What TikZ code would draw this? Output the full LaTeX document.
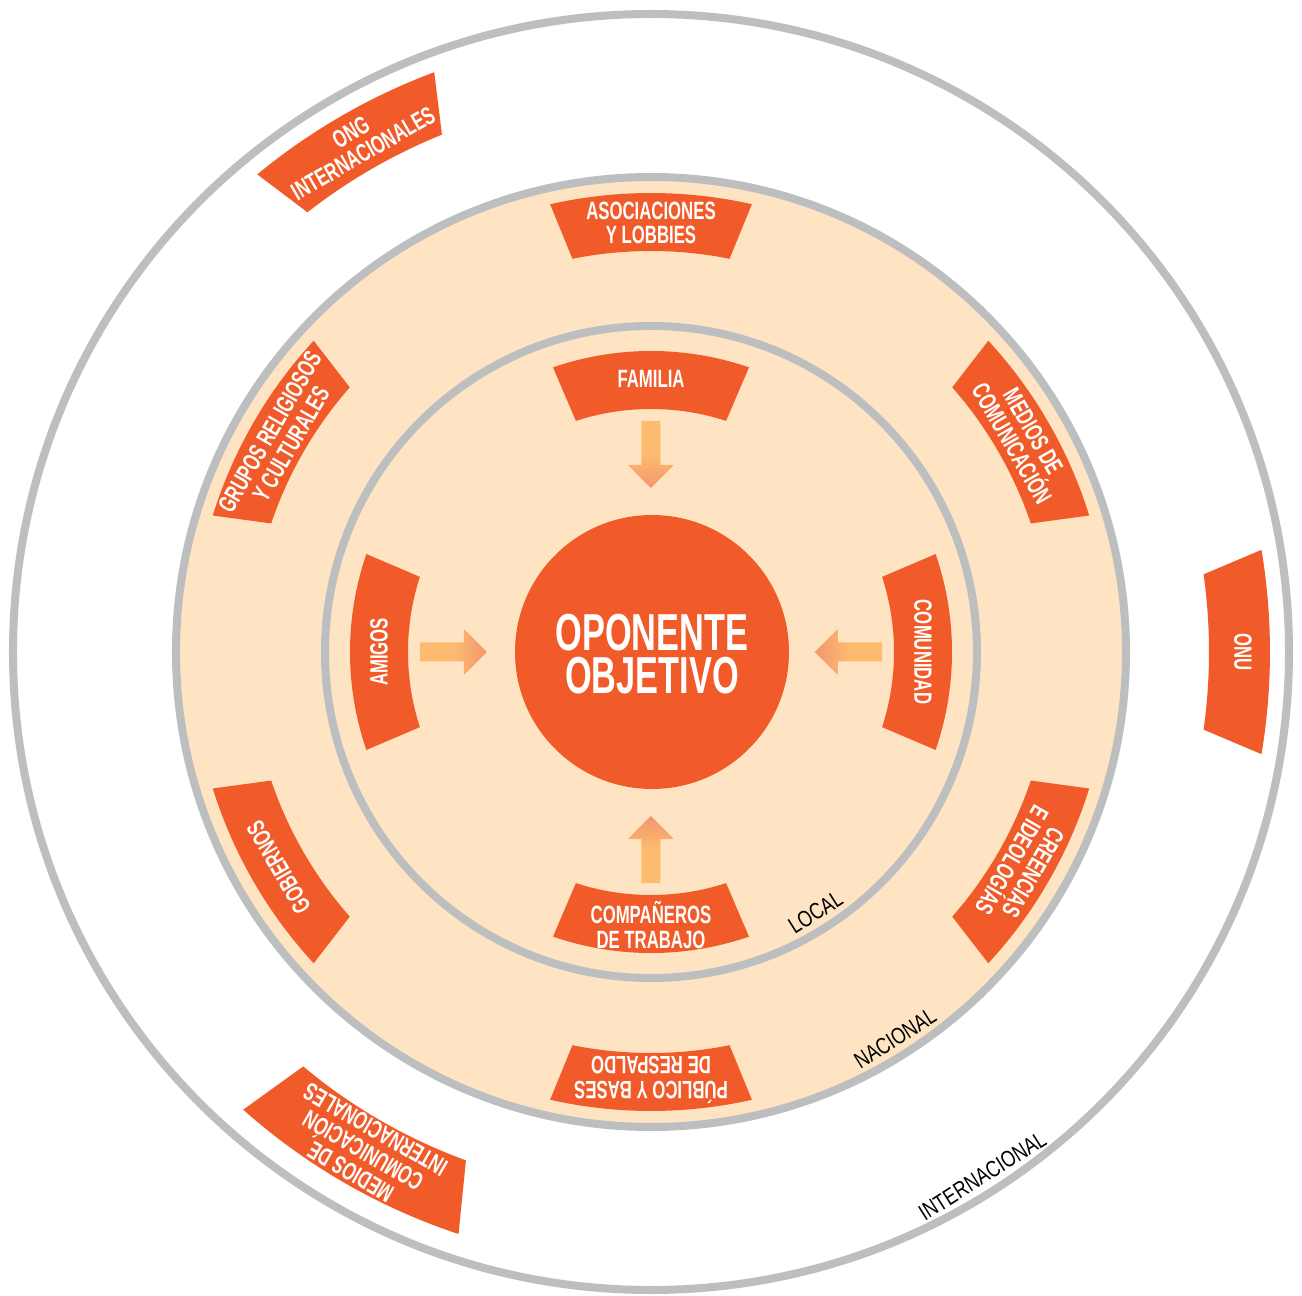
\documentclass[tikz,border=0pt]{standalone}
\usepackage{fontspec}
\setmainfont{Liberation Sans}
\newfontfamily\labfont{Liberation Sans}[FakeStretch=0.67]
\newfontfamily\bigfont{Liberation Sans}[FakeStretch=0.66]
\newfontfamily\ringfont{Liberation Sans}[FakeStretch=0.78]
\definecolor{orng}{RGB}{241,91,42}
\definecolor{peach}{RGB}{254,228,195}
\definecolor{ringgray}{RGB}{188,190,192}
\definecolor{arrA}{RGB}{253,187,112}
\definecolor{arrB}{RGB}{243,150,108}
% #1 centre angle, #2 inner radius, #3 outer radius, #4 inner half angle, #5 outer half angle
\newcommand{\sectorshape}[5]{%
  \fill[sect] ({#1-#5}:{#3}) arc[start angle={#1-#5}, end angle={#1+#5}, radius=#3]
    -- ({#1+#4}:{#2}) arc[start angle={#1+#4}, end angle={#1-#4}, radius=#2] -- cycle;}
\begin{document}
\begin{tikzpicture}[x=0.5pt,y=0.5pt,
  sect/.style={fill=orng},
  ring/.style={draw=ringgray, line width=4pt},
  lab/.style={text=white, font=\labfont\bfseries\fontsize{12.5}{12.3}\selectfont, align=center, inner sep=0pt},
  ringlab/.style={text=black, font=\ringfont\fontsize{11.5}{11.5}\selectfont, inner sep=0pt},
  bigtxt/.style={text=white, font=\bigfont\bfseries\fontsize{26}{21.5}\selectfont, align=center, inner sep=0pt}]
\fill[white] (-651,-644) rectangle (651,652);
\useasboundingbox (-651,-644) rectangle (651,652);
% rings
\draw[ring] (0,0) circle[radius=638];
\filldraw[ring, fill=peach] (0,0) circle[radius=475];
\draw[ring] (0,0) circle[radius=326];
% local sectors
\sectorshape{90}{243}{301}{18}{19}
\sectorshape{180}{243}{301}{18}{19}
\sectorshape{0}{243}{301}{18}{19}
\sectorshape{270}{243}{301}{18}{19}
% national sectors
\sectorshape{90}{401}{459}{11.3}{12.7}
\sectorshape{30}{401}{459}{11.3}{12.7}
\sectorshape{-30}{401}{459}{11.3}{12.7}
\sectorshape{270}{401}{459}{11.3}{12.7}
\sectorshape{210}{401}{459}{11.3}{12.7}
\sectorshape{150}{401}{459}{11.3}{12.7}
% international sectors
\sectorshape{120}{558}{619}{8}{9.5}
\sectorshape{0}{558}{619}{8}{9.5}
\sectorshape{240}{541}{613}{10}{11.7}
% centre
\node[circle, fill=orng, minimum size=137pt, inner sep=0pt] (core) at (1,0) {};
\node[bigtxt] (oponente) at (1,-2.5) {OPONENTE\\OBJETIVO};
% arrows
\shade[top color=arrA, bottom color=arrB, middle color=arrA]
  (-9.5,231) -- (-9.5,187) -- (-23,187) -- (0,164) -- (23,187) -- (9.5,187) -- (9.5,231) -- cycle;
\shade[bottom color=arrA, top color=arrB, middle color=arrA]
  (-9.5,-231) -- (-9.5,-187) -- (-23,-187) -- (0,-164) -- (23,-187) -- (9.5,-187) -- (9.5,-231) -- cycle;
\shade[left color=arrA, right color=arrB, middle color=arrA]
  (-231,-9.5) -- (-187,-9.5) -- (-187,-23) -- (-164,0) -- (-187,23) -- (-187,9.5) -- (-231,9.5) -- cycle;
\shade[right color=arrA, left color=arrB, middle color=arrA]
  (231,-9.5) -- (187,-9.5) -- (187,-23) -- (164,0) -- (187,23) -- (187,9.5) -- (231,9.5) -- cycle;
% labels
\node[lab] (familia) at (90:273) {FAMILIA};
\node[lab, rotate=90] (amigos) at (180:272) {AMIGOS};
\node[lab, rotate=-90] (comunidad) at (0:272) {COMUNIDAD};
\node[lab] (companeros) at (270:273) {COMPAÑEROS\\DE TRABAJO};
\node[lab] (asoc) at (90:429) {ASOCIACIONES\\Y LOBBIES};
\node[lab, rotate=-60] (medios) at (30:429) {MEDIOS DE\\COMUNICACIÓN};
\node[lab, rotate=-120] (creencias) at (-30:429) {CREENCIAS\\E IDEOLOGÍAS};
\node[lab, rotate=180] (publico) at (270:428) {PÚBLICO Y BASES\\DE RESPALDO};
\node[lab, rotate=120] (gobiernos) at (210:430) {GOBIERNOS};
\node[lab, rotate=60] (grupos) at (150:428) {GRUPOS RELIGIOSOS\\Y CULTURALES};
\node[lab, rotate=30] (ong) at (120:588) {ONG\\INTERNACIONALES};
\node[lab, rotate=-90] (onu) at (0:592) {ONU};
\node[lab, rotate=150] (mediosint) at (240:576) {MEDIOS DE\\COMUNICACIÓN\\INTERNACIONALES};
% ring names
\node[ringlab, rotate=32.3] (local) at (-57.7:308) {LOCAL};
\node[ringlab, rotate=32.3] (nacional) at (-57.7:457) {NACIONAL};
\node[ringlab, rotate=32.3] (internacional) at (-57.7:620) {INTERNACIONAL};
\end{tikzpicture}
\end{document}
